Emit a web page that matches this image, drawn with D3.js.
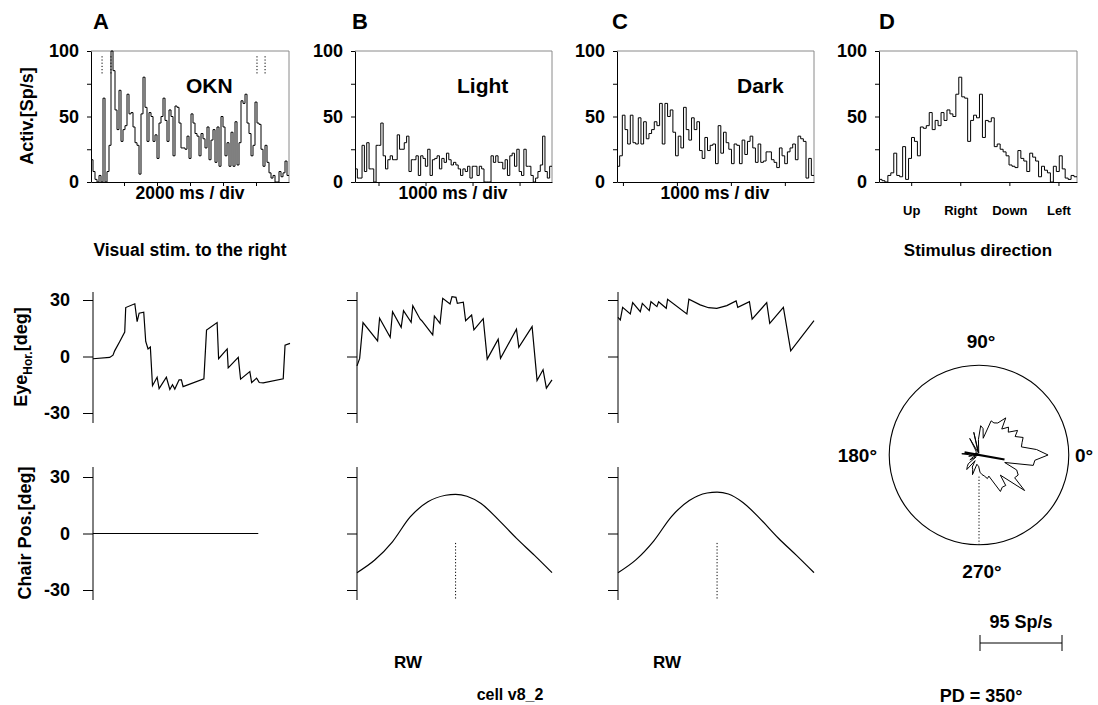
<!DOCTYPE html>
<html>
<head>
<meta charset="utf-8">
<script src="https://cdn.jsdelivr.net/npm/d3@7"></script>
<style>
  body { margin: 0; background: #fff; }
</style>
</head>
<body>
<div id="canvas"></div>
<script>
// Fonts and sizes

const FONT = "'Liberation Sans', Arial, Helvetica, sans-serif";

// Firing-rate histograms (Sp/s), one value per bin

const rateA = [17,8,2,0,5,0,64,0,8,28, 100,85,55,40,70,31,40,43,67,52,
  53,42,30,28,6,52,80,57,31,53, 50,31,36,18,45,50,64,47,31,55,
  50,20,58,57,45,26,26,25,35,18, 52,45,37,35,20,37,33,26,42,17,
  32,40,15,42,12,50,42,20,30,12, 38,12,46,13,30,62,60,67,45,37,
  20,28,61,45,44,25,12,28,15,7, 3,5,0,0,8,4,7,16,5];

const rateB = [10,3,3,28,8,30,10,10,0,28, 28,45,20,10,17,20,17,17,36,25,
  25,30,35,8,17,17,20,5,20,18, 12,25,5,17,18,20,10,18,15,22,
  17,13,15,13,10,5,10,8,12,3, 12,12,5,12,10,0,0,0,20,15,
  20,15,15,10,17,5,20,22,12,25, 8,5,25,12,12,5,0,3,8,13, 35,8,3,12];

const rateC = [12,20,51,40,29,51,30,29,49,29, 46,33,37,40,46,43,60,29,60,50,
  55,38,20,35,26,57,40,32,49,40, 46,24,18,34,24,28,29,14,43,22,
  38,30,25,14,29,28,14,32,21,31, 35,26,15,29,15,16,23,23,17,15,
  11,26,20,14,23,26,29,17,35,33, 31,3,18,5];

// direction tuning, bins run from 149 deg down through 0 (Right) to -214 deg
const rateD = [2,1,0,5,7,22,5,4,27,2, 18,34,31,20,42,41,43,53,40,47,
  43,53,47,55,52,50,67,80,65,64, 31,47,51,49,67,34,47,46,49,27,
  29,25,23,20,13,12,11,24,18,16, 8,22,19,16,4,12,9,7,0,12,
  8,20,10,3,2,5,4];

const timeA = [0, 12], ticksA = [2, 4, 6, 8, 10];          // s
const timeB = [0, 4.19], ticksB = [0.5, 1.5, 2.5, 3.5];
const timeC = [0, 3.65], ticksC = [0.11, 1.11, 2.11, 3.11];
const dirD = [149, -214], ticksD = [90, 0, -90, -180];
const dirLabels = ["Up", "Right", "Down", "Left"];
const oknMarks = [0.67, 1.21, 10.06, 10.55];              // s

// Horizontal eye position [s, deg]

const eyeA = [[0,-1.2],[1.01,-0.5],[1.21,0.7],[1.31,3],[1.62,8],[1.92,13],[1.98,26],[2.53,28],
  [2.67,18.5],[2.79,23],[3.07,23.5],[3.19,8],[3.33,4],[3.47,5],[3.6,-15.5],[3.88,-11],[4.0,-17],
  [4.44,-11],[4.65,-17.5],[4.81,-15],[4.95,-17.3],[5.21,-12.4],[5.35,-12.4],[5.45,-16],[6.71,-11.8],
  [6.87,14],[7.51,18],[7.6,-1.2],[8.12,4],[8.18,-6],[8.79,-0.5],[8.93,-12],[9.49,-8],[9.6,-13.8],
  [9.9,-11.5],[10.06,-13.8],[10.3,-14],[11.51,-11.8],[11.62,6],[11.92,7]];

const eyeB = [[0,-5],[0.057,-1],[0.128,18],[0.44,8.3],[0.482,20.3],[0.709,10.2],[0.759,23.8],
  [0.943,15.5],[0.993,24.4],[1.156,18.2],[1.191,27],[1.348,19.8],[1.383,19],[1.617,11.5],
  [1.652,21.5],[1.773,17.6],[1.83,30.9],[1.986,27.9],[2.028,31.8],[2.113,31.4],[2.142,28.2],
  [2.27,28.8],[2.319,19],[2.447,22],[2.496,14.1],[2.695,20.1],[2.78,-1.4],[3.014,9.2],
  [3.064,-1],[3.404,14.5],[3.454,4.9],[3.738,15.9],[3.844,-12.7],[3.972,-7],[4.043,-16.8],[4.163,-12.4]];

const eyeC = [[0,20.8],[0.043,19.4],[0.086,26.1],[0.228,22.6],[0.272,28.6],[0.414,23.8],
  [0.451,28.2],[0.58,24.4],[0.611,29.1],[0.722,26.5],[0.753,29.1],[0.895,25.6],[0.92,30.4],
  [1.278,22.6],[1.315,30.4],[1.525,27.4],[1.679,25.9],[1.833,25.6],[2.019,27],[2.191,29.5],
  [2.222,26.1],[2.438,29.1],[2.488,19.8],[2.759,28.6],[2.815,17.6],[3.068,26.1],[3.204,3],[3.636,19.1]];

// Chair position [s, deg]

const chairA = [[0, 0], [10, 0]];
const chairB = [[0,-20.8],[0.378,-14.1],[0.756,-4.4],[1.135,8.8],[1.513,16.8],[1.891,20.3],
  [2.103,20.8],[2.345,19.8],[2.647,15.9],[3.025,7.1],[3.404,-2.6],[3.782,-11.5],[4.16,-20.8]];
const chairC = [[0,-20.8],[0.331,-14],[0.662,-4],[0.993,9],[1.324,17.5],[1.655,21.5],
  [1.84,22],[2.05,21],[2.32,16.5],[2.65,7.5],[2.98,-2.5],[3.31,-11.5],[3.64,-20.8]];
const peakB = 2.103, peakC = 1.84;

// Polar plot

const pdDeg = 350;           // preferred direction
const pdVector = [-17, 30];  // Sp/s along PD
const scaleBarRate = 95;     // Sp/s
const circleRate = 104;      // Sp/s

// Drawing area

let svg = d3.select("#canvas")
    .append("svg")
    .attr("width", 1098)
    .attr("height", 705)
    .style("background-color", "#fff");

function txt(x, y, s, size, anchor) {
    return svg.append("text")
        .attr("x", x).attr("y", y)
        .attr("font-family", FONT)
        .attr("font-weight", "bold")
        .attr("font-size", size)
        .attr("text-anchor", anchor || "middle")
        .attr("fill", "#000")
        .text(s);
}

function styleAxis(g, size) {
    g.attr("font-family", FONT).attr("font-weight", "bold").attr("font-size", size);
    g.selectAll(".domain").attr("stroke", "#000");
    g.selectAll(".tick line").attr("stroke", "#000");
    g.selectAll(".tick text").attr("fill", "#000");
}

// Histogram panels

let histTop = 51, histBottom = 182;

function histPanel(p) {
    let x = d3.scaleLinear().domain(p.domain).range([p.left, p.right]);
    let y = d3.scaleLinear().domain([0, 100]).range([histBottom, histTop]);

    let bw = (p.domain[1] - p.domain[0]) / p.rates.length;
    let steps = p.rates.map((v, i) => [p.domain[0] + i * bw, v]);
    steps.push([p.domain[1], p.rates[p.rates.length - 1]]);

    svg.append("path")
        .attr("d", "M" + p.left + "," + y(100) + "H" + p.right + "V" + y(0))
        .attr("fill", "none")
        .attr("stroke", "#8a8a8a")
        .attr("stroke-width", 1);

    svg.append("path")
        .datum(steps)
        .attr("fill", "none")
        .attr("stroke", "#000")
        .attr("stroke-width", p.width || 1)
        .attr("d", d3.line()
            .x(d => x(d[0]))
            .y(d => y(d[1]))
            .curve(d3.curveStepAfter));

    let ay = svg.append("g")
        .attr("transform", "translate(" + p.left + ",0)")
        .call(d3.axisLeft(y).tickValues([0, 25, 50, 75, 100]).tickSize(4).tickSizeOuter(0)
            .tickPadding(8).tickFormat(d => d % 50 === 0 ? String(d) : ""));
    styleAxis(ay, 18);

    let ax = svg.append("g")
        .attr("transform", "translate(0," + y(0) + ")")
        .call(d3.axisBottom(x).tickValues(p.ticks).tickSize(4).tickSizeOuter(0)
            .tickPadding(20).tickFormat((d, i) => p.tickLabels ? p.tickLabels[i] : ""));
    styleAxis(ax, 13);

    return {x, y};
}

let hA = histPanel({left: 91, right: 289, domain: timeA, ticks: ticksA, rates: rateA, width: 1});
histPanel({left: 355, right: 552, domain: timeB, ticks: ticksB, rates: rateB});
histPanel({left: 617, right: 814, domain: timeC, ticks: ticksC, rates: rateC});
histPanel({left: 879, right: 1077, domain: dirD, ticks: ticksD, rates: rateD, tickLabels: dirLabels});

// OKN on/off markers

oknMarks.forEach(t => {
    svg.append("line")
        .attr("x1", hA.x(t)).attr("x2", hA.x(t))
        .attr("y1", hA.y(96)).attr("y2", hA.y(82))
        .attr("stroke", "#000")
        .attr("stroke-width", 1)
        .attr("stroke-dasharray", "1.2,2");
});

// Eye and chair traces

function tracePanel(p) {
    let x = d3.scaleLinear().domain(p.time).range([p.left, p.right]);
    let y = d3.scaleLinear().domain([-30, 30]).range([p.yBottom, p.yTop]);

    svg.append("line")
        .attr("x1", p.left).attr("x2", p.left)
        .attr("y1", p.axisTop).attr("y2", p.axisBottom)
        .attr("stroke", "#000");

    let ay = svg.append("g")
        .attr("transform", "translate(" + p.left + ",0)")
        .call(d3.axisLeft(y).tickValues([-30, 0, 30]).tickSize(10).tickSizeOuter(0)
            .tickPadding(13).tickFormat(d => p.labels ? String(d) : ""));
    ay.select(".domain").remove();
    styleAxis(ay, 18);

    svg.append("path")
        .datum(p.data)
        .attr("fill", "none")
        .attr("stroke", "#000")
        .attr("stroke-width", 1.2)
        .attr("d", d3.line()
            .x(d => x(d[0]))
            .y(d => y(d[1]))
            .curve(p.curve || d3.curveLinear));

    if (p.peak !== undefined) {
        svg.append("line")
            .attr("x1", x(p.peak)).attr("x2", x(p.peak))
            .attr("y1", y(-5)).attr("y2", p.axisBottom)
            .attr("stroke", "#000")
            .attr("stroke-dasharray", "1.2,2");
    }
    return {x, y};
}

let eyeRows = {yTop: 300, yBottom: 413, axisTop: 292, axisBottom: 423};
let chairRows = {yTop: 477, yBottom: 590, axisTop: 467, axisBottom: 600};

tracePanel(Object.assign({left: 93, right: 290, time: [0, 11.92], data: eyeA, labels: true}, eyeRows));
tracePanel(Object.assign({left: 357, right: 552, time: [0, 4.163], data: eyeB}, eyeRows));
tracePanel(Object.assign({left: 618, right: 814, time: [0, 3.636], data: eyeC}, eyeRows));

tracePanel(Object.assign({left: 93, right: 290, time: [0, 11.92], data: chairA, labels: true}, chairRows));
tracePanel(Object.assign({left: 357, right: 552, time: [0, 4.16], data: chairB, peak: peakB,
    curve: d3.curveMonotoneX}, chairRows));
tracePanel(Object.assign({left: 618, right: 814, time: [0, 3.64], data: chairC, peak: peakC,
    curve: d3.curveMonotoneX}, chairRows));

// Polar plot of direction tuning

let cx = 979, cy = 455;
let r = d3.scaleLinear().domain([0, scaleBarRate]).range([0, 82]);
let bwD = (dirD[1] - dirD[0]) / rateD.length;
let polar = rateD.map((v, i) => [dirD[0] + (i + 0.5) * bwD, v]);
let rad = a => a * Math.PI / 180;
let pt = (a, v) => [cx + r(v) * Math.cos(rad(a)), cy - r(v) * Math.sin(rad(a))];

svg.append("circle")
    .attr("cx", cx).attr("cy", cy).attr("r", r(circleRate))
    .attr("fill", "none")
    .attr("stroke", "#000")
    .attr("stroke-width", 1.1);

svg.append("path")
    .datum(polar)
    .attr("transform", "translate(" + cx + "," + cy + ")")
    .attr("fill", "none")
    .attr("stroke", "#000")
    .attr("stroke-width", 1)
    .attr("d", d3.lineRadial()
        .angle(d => rad(90 - d[0]))
        .radius(d => r(d[1]))
        .curve(d3.curveLinearClosed));

let p0 = pt(pdDeg, pdVector[0]), p1 = pt(pdDeg, pdVector[1]);
svg.append("line")
    .attr("x1", p0[0]).attr("y1", p0[1]).attr("x2", p1[0]).attr("y2", p1[1])
    .attr("stroke", "#000")
    .attr("stroke-width", 2.2);

let d0 = pt(270, 25), d1 = pt(270, circleRate);
svg.append("line")
    .attr("x1", d0[0]).attr("y1", d0[1]).attr("x2", d1[0]).attr("y2", d1[1])
    .attr("stroke", "#000")
    .attr("stroke-dasharray", "1.2,2");

txt(cx + 2, 348, "90°", 19);
txt(877, 462, "180°", 19, "end");
txt(1075, 462, "0°", 19, "start");
txt(cx + 3, 578, "270°", 19);

// Scale bar

let sbY = 643;
svg.append("path")
    .attr("d", "M" + 980 + "," + (sbY - 8) + "v16M" + 980 + "," + sbY + "h" + r(scaleBarRate) +
        "M" + (980 + r(scaleBarRate)) + "," + (sbY - 8) + "v16")
    .attr("fill", "none")
    .attr("stroke", "#000");
txt(980 + r(scaleBarRate) / 2, 628, scaleBarRate + " Sp/s", 18);
txt(981, 702, "PD = " + pdDeg + "°", 18);

// Panel letters and titles

txt(93, 29, "A", 22, "start");
txt(352, 29, "B", 22, "start");
txt(612, 29, "C", 22, "start");
txt(879, 29, "D", 22, "start");

txt(186, 93, "OKN", 21, "start");
txt(457, 93, "Light", 21, "start");
txt(737, 93, "Dark", 21, "start");

txt(190, 199, "2000 ms / div", 17.5);
txt(453, 199, "1000 ms / div", 17.5);
txt(715, 199, "1000 ms / div", 17.5);
txt(190, 256, "Visual stim. to the right", 17.5);
txt(978, 256, "Stimulus direction", 17);

txt(408, 668, "RW", 17);
txt(667, 668, "RW", 17);
txt(510, 700, "cell v8_2", 16);

// Y-axis titles

txt(0, 0, "Activ.[Sp/s]", 18).attr("transform", "translate(33,116) rotate(-90)");
txt(0, 0, "Chair Pos.[deg]", 18).attr("transform", "translate(31,533) rotate(-90)");

let eyeLab = txt(0, 0, "", 18).attr("transform", "translate(27,357) rotate(-90)");
eyeLab.append("tspan").text("Eye");
eyeLab.append("tspan").attr("font-size", 12).attr("dy", 5).text("Hor.");
eyeLab.append("tspan").attr("dy", -5).text("[deg]");
</script>
</body>
</html>
